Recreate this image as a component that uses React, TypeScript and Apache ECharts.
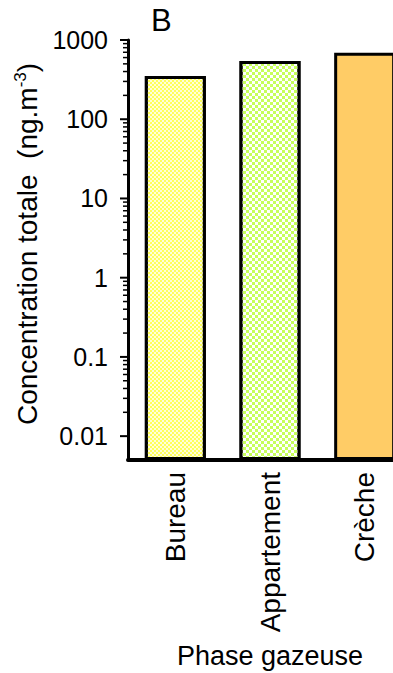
import React, { useEffect, useRef } from "react";
import * as echarts from "echarts";

const categories = ["Bureau", "Appartement", "Crèche"];
const values = [350, 544, 689];
const yMin = 0.005;
const yMax = 1000;
const majorTicks = [0.01, 0.1, 1, 10, 100, 1000];
const minorMultipliers = [2, 3, 4, 5, 6, 7, 8, 9];

export default function App() {
  const ref = useRef<HTMLDivElement>(null);
  useEffect(() => {
    if (!ref.current) return;
    const chart = echarts.init(ref.current, null, { renderer: "svg" });
    const tickData: number[][] = [];
    majorTicks.forEach((v) => tickData.push([0, v, 1]));
    majorTicks.slice(0, -1).forEach((v) =>
      minorMultipliers.forEach((m) => tickData.push([0, +(v * m).toPrecision(6), 0]))
    );
    const font = "Liberation Sans, Arial, sans-serif";
    const fills = [
      {
        color: "#ffff5c",
        decal: {
          symbol: "rect",
          symbolSize: 1,
          color: "rgba(255,255,230,0.9)",
          dashArrayX: [[2, 2], [0, 2, 2, 0]],
          dashArrayY: [2, 0],
        },
      },
      {
        color: "#c6ff5a",
        decal: {
          symbol: "rect",
          symbolSize: 1,
          color: "#ffffff",
          dashArrayX: [[3, 3], [0, 3, 3, 0]],
          dashArrayY: [3, 0],
        },
      },
      { color: "#ffcc66" },
    ];
    chart.setOption({
      animation: false,
      backgroundColor: "#ffffff",
      textStyle: { fontFamily: font },
      grid: { left: 128, top: 40, width: 284, height: 420, outerBoundsMode: "none", containLabel: false },
      graphic: [
        {
          type: "text",
          left: 151,
          top: 5,
          style: { text: "B", fontSize: 31, fontFamily: font, fill: "#000" },
        },
      ],
      xAxis: {
        type: "category",
        data: categories,
        axisLine: { lineStyle: { color: "#000", width: 4 } },
        axisTick: { show: false },
        axisLabel: { rotate: 90, margin: 12, fontSize: 28, color: "#000", fontFamily: font },
        name: "Phase gazeuse",
        nameLocation: "middle",
        nameGap: 182,
        nameTextStyle: { fontSize: 27, color: "#000", fontFamily: font },
      },
      yAxis: {
        type: "log",
        logBase: 10,
        min: yMin,
        max: yMax,
        startValue: yMin,
        splitLine: { show: false },
        axisTick: { show: false },
        axisLine: { show: true, lineStyle: { color: "#000", width: 3 } },
        axisLabel: {
          fontSize: 25,
          color: "#000",
          margin: 20,
          fontFamily: font,
          formatter: (v: number) => {
            const l = Math.log10(v);
            if (Math.abs(l - Math.round(l)) > 1e-6) return "";
            if (v < 0.009) return "";
            return v >= 1 ? String(Math.round(v)) : String(+v.toPrecision(1));
          },
        },
        name: "{a|Concentration totale  (ng.m}{s|-3}{a|)}",
        nameLocation: "middle",
        nameRotate: 90,
        nameGap: 76,
        nameTextStyle: {
          color: "#000",
          fontFamily: font,
          padding: [0, 0, 0, 12],
          rich: {
            a: { fontSize: 28, color: "#000", fontFamily: font, lineHeight: 31 },
            s: { fontSize: 17, color: "#000", fontFamily: font, lineHeight: 17, verticalAlign: "top" },
          },
        },
      },
      series: [
        {
          type: "bar",
          barWidth: 61,
          data: values.map((v, i) => ({
            value: v,
            itemStyle: { ...fills[i], borderColor: "#000", borderWidth: 3 },
          })),
        },
        {
          type: "custom",
          data: tickData,
          encode: { x: 0, y: 1 },
          silent: true,
          renderItem: (params: any, api: any) => {
            const v = api.value(1);
            const major = api.value(2) === 1;
            const pt = api.coord([0, v]);
            const x0 = params.coordSys.x;
            const len = major ? 8 : 5;
            return {
              type: "line",
              shape: { x1: x0 - len, y1: pt[1], x2: x0, y2: pt[1] },
              style: { stroke: "#000", lineWidth: major ? 2 : 1.5 },
            };
          },
        },
      ],
    });
    return () => chart.dispose();
  }, []);
  return (
    <div
      ref={ref}
      style={{ position: "fixed", left: 0, top: 0, width: 393, height: 673, background: "#fff" }}
    />
  );
}
